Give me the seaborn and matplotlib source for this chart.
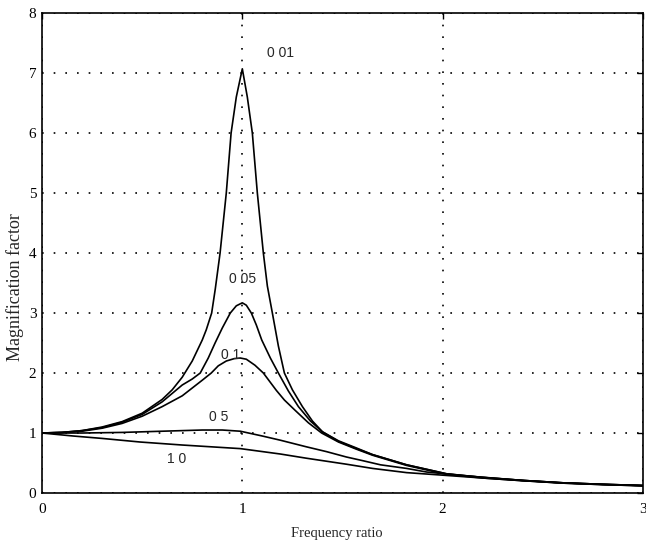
import matplotlib
matplotlib.use("Agg")
import matplotlib.pyplot as plt
import seaborn as sns
import pandas as pd

# damping ratios and the curve for each one
zeta_labels = ["0 01", "0 05", "0 1", "0 5", "1 0"]

r_001 = [0, 0.1, 0.2, 0.3, 0.4, 0.5, 0.6, 0.65, 0.7, 0.75, 0.8, 0.82, 0.847, 0.865, 0.889, 0.92,
         0.944, 0.97, 1.0, 1.025, 1.05, 1.075, 1.105, 1.125, 1.15, 1.18, 1.21, 1.25, 1.30, 1.35,
         1.40, 1.48, 1.57, 1.65, 1.74, 1.82, 1.90, 2.02, 2.2, 2.4, 2.6, 2.8, 3.0]
m_001 = [1.0, 1.01, 1.04, 1.10, 1.19, 1.33, 1.56, 1.72, 1.93, 2.2, 2.55, 2.72, 3.0, 3.4, 4.0, 5.0,
         6.0, 6.6, 7.07, 6.6, 6.0, 5.0, 4.0, 3.45, 3.0, 2.45, 2.0, 1.72, 1.44, 1.2,
         1.02, 0.87, 0.75, 0.64, 0.55, 0.47, 0.41, 0.32, 0.26, 0.21, 0.17, 0.145, 0.125]

r_005 = [0, 0.1, 0.2, 0.3, 0.4, 0.5, 0.6, 0.7, 0.75, 0.79, 0.83, 0.864, 0.9, 0.94, 0.97, 1.0, 1.02,
         1.045, 1.07, 1.097, 1.14, 1.18, 1.23, 1.28, 1.34, 1.40, 1.48, 1.57, 1.65, 1.74, 1.82, 1.90,
         2.02, 2.2, 2.4, 2.6, 2.8, 3.0]
m_005 = [1.0, 1.01, 1.04, 1.09, 1.18, 1.31, 1.52, 1.80, 1.9, 2.0, 2.25, 2.5, 2.75, 3.0, 3.12, 3.17, 3.13,
         3.0, 2.8, 2.55, 2.25, 2.0, 1.7, 1.44, 1.2, 1.02, 0.86, 0.74, 0.64, 0.55, 0.47, 0.41,
         0.32, 0.26, 0.21, 0.17, 0.145, 0.125]

r_01 = [0, 0.1, 0.2, 0.3, 0.4, 0.5, 0.6, 0.7, 0.8, 0.845, 0.88, 0.92, 0.96, 0.99, 1.02, 1.063,
        1.105, 1.17, 1.21, 1.263, 1.33, 1.396, 1.48, 1.57, 1.65, 1.74, 1.82, 1.90, 2.02, 2.2,
        2.4, 2.6, 2.8, 3.0]
m_01 = [1.0, 1.01, 1.03, 1.08, 1.16, 1.28, 1.44, 1.62, 1.88, 2.0, 2.12, 2.2, 2.24, 2.25, 2.23, 2.13,
        2.0, 1.71, 1.55, 1.38, 1.17, 1.0, 0.85, 0.73, 0.63, 0.54, 0.46, 0.40, 0.31, 0.25,
        0.205, 0.165, 0.14, 0.12]

r_05 = [0, 0.2, 0.4, 0.6, 0.8, 0.9, 0.99, 1.1, 1.19, 1.32, 1.42, 1.52, 1.6, 1.69, 1.82, 1.92,
        2.1, 2.4, 2.6, 2.8, 3.0]
m_05 = [1.0, 1.0, 1.01, 1.03, 1.05, 1.05, 1.03, 0.95, 0.88, 0.77, 0.69, 0.60, 0.54, 0.47, 0.41, 0.35,
        0.29, 0.21, 0.17, 0.145, 0.125]

r_10 = [0, 0.156, 0.3, 0.49, 0.7, 0.99, 1.19, 1.32, 1.52, 1.65, 1.82, 1.99, 2.2, 2.4, 2.6, 2.8, 3.0]
m_10 = [1.0, 0.95, 0.91, 0.85, 0.80, 0.74, 0.65, 0.58, 0.48, 0.41, 0.34, 0.30, 0.25, 0.205, 0.165,
        0.14, 0.12]

# where each damping label sits (data coords)
label_x = [1.19, 1.0, 0.94, 0.884, 0.674]
label_y = [7.34, 3.56, 2.30, 1.26, 0.57]

x_ticks = [0, 1, 2, 3]
y_ticks = [0, 1, 2, 3, 4, 5, 6, 7, 8]

curves = [(r_001, m_001), (r_005, m_005), (r_01, m_01), (r_05, m_05), (r_10, m_10)]
frames = []
for lab, (rr, mm) in zip(zeta_labels, curves):
    frames.append(pd.DataFrame({"r": rr, "M": mm, "zeta": lab}))
df = pd.concat(frames, ignore_index=True)

sns.set_style("white")
plt.rcParams["font.family"] = ["Liberation Serif", "DejaVu Serif"]

fig = plt.figure(figsize=(6.46, 5.40), dpi=100)
ax = fig.add_axes([0.065, 0.087, 0.9303, 0.8889])

sns.lineplot(data=df, x="r", y="M", units="zeta", estimator=None,
             color="black", linewidth=1.2, ax=ax)

ax.set_xlim(0, 3)
ax.set_ylim(0, 8)
ax.set_xticks(x_ticks)
ax.set_yticks(y_ticks)
ax.grid(True, color="black", linestyle=(0, (1, 6)), linewidth=1.2)
ax.tick_params(direction="in", top=True, right=True, length=4, width=1,
               labelsize=11, colors="black")
ax.tick_params(axis="x", pad=7)
ax.tick_params(axis="y", pad=4)
for s in ax.spines.values():
    s.set_color("black")
    s.set_linewidth(1.2)

ax.set_xlabel("Frequency ratio", fontsize=10.5)
ax.set_ylabel("Magnification factor", fontsize=13)
ax.xaxis.set_label_coords(0.49, -0.071)
ax.yaxis.set_label_coords(-0.03, 0.43)

for lab, lx, ly in zip(zeta_labels, label_x, label_y):
    ax.text(lx, ly, lab, ha="center", va="center", fontsize=10,
            family=["Liberation Sans", "DejaVu Sans"])

fig.savefig("out.png", dpi=100)
